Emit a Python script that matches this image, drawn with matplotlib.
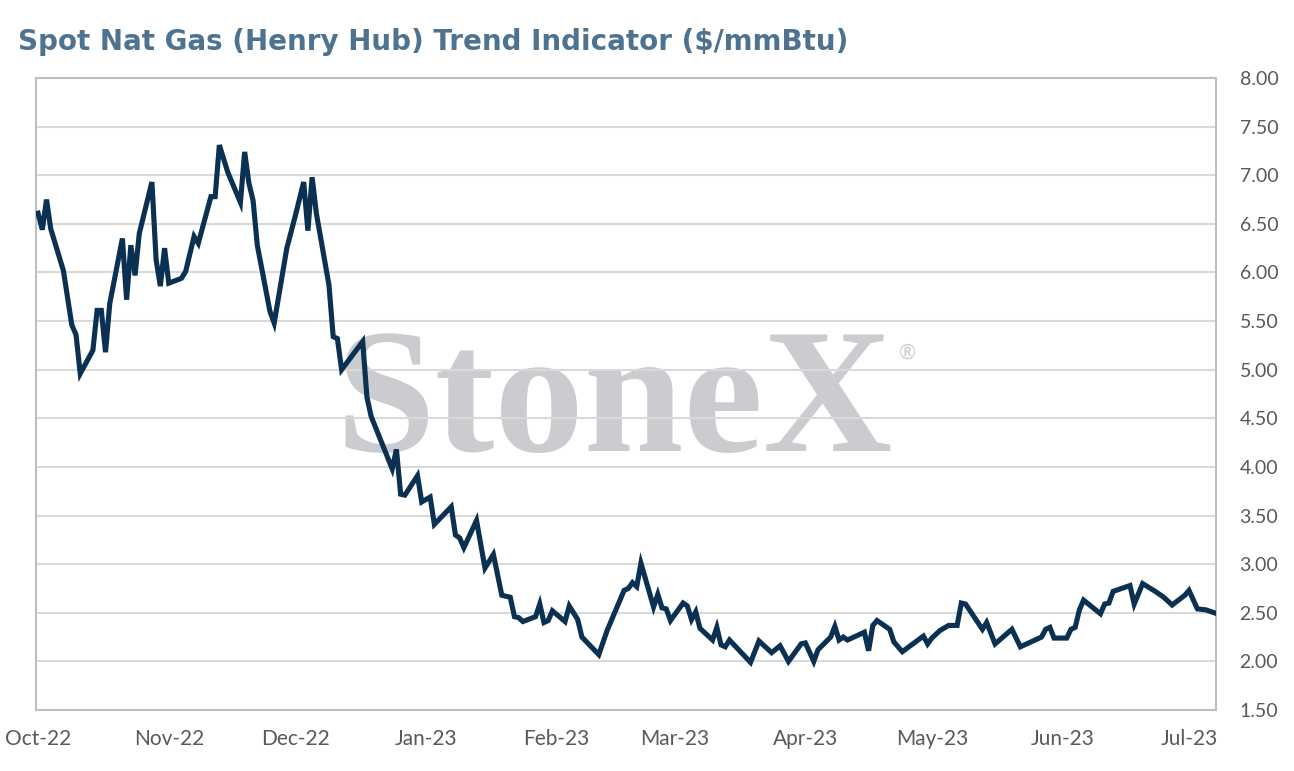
import pandas as pd
import matplotlib
matplotlib.use("Agg")
import matplotlib.pyplot as plt
import matplotlib.dates as mdates

# день от 1 октября 2022 и цена ($/mmBtu)
start = pd.Timestamp("2022-10-01")
days = [0, 1, 2, 3, 6, 8, 9, 10, 13, 14, 15, 16, 17, 20, 21, 22, 23, 24, 27, 28,
        29, 30, 31, 34, 35, 37, 38, 41, 42, 43, 45, 48, 49, 50, 51, 52, 55, 56, 59, 61,
        63, 64, 65, 66, 69, 70, 71, 72, 77, 78, 79, 84, 85, 86, 87, 90, 91, 93, 94, 98,
        99, 100, 101, 104, 106, 108, 110, 112, 113, 114, 115, 118, 119, 120, 121, 122, 125, 126, 128, 129,
        133, 135, 139, 140, 141, 142, 143, 146, 147, 148, 149, 150, 153, 154, 155, 156, 157, 160, 161, 162,
        163, 164, 169, 171, 174, 176, 178, 181, 182, 184, 185, 188, 189, 190, 191, 192, 196, 197, 198, 199,
        202, 203, 205, 210, 211, 212, 214, 216, 218, 219, 220, 224, 225, 227, 231, 233, 238, 239, 240, 241,
        244, 245, 246, 247, 248, 252, 253, 254, 255, 259, 260, 262, 265, 267, 269, 272, 273, 275, 277, 279]
prices = [6.61, 6.44, 6.75, 6.45, 6.02, 5.46, 5.36, 4.96, 5.20, 5.61, 5.61, 5.18, 5.68, 6.35, 5.72, 6.28, 5.97, 6.40, 6.93, 6.13,
          5.86, 6.25, 5.89, 5.94, 6.01, 6.37, 6.30, 6.78, 6.78, 7.31, 7.03, 6.72, 7.24, 6.92, 6.74, 6.28, 5.60, 5.48, 6.25, 6.58,
          6.93, 6.43, 6.98, 6.61, 5.87, 5.34, 5.32, 5.00, 5.29, 4.72, 4.52, 3.98, 4.18, 3.72, 3.71, 3.91, 3.64, 3.69, 3.41, 3.59,
          3.30, 3.27, 3.17, 3.45, 2.96, 3.10, 2.68, 2.66, 2.46, 2.45, 2.41, 2.46, 2.59, 2.40, 2.42, 2.52, 2.41, 2.57, 2.43, 2.25,
          2.07, 2.32, 2.73, 2.75, 2.81, 2.77, 3.01, 2.56, 2.69, 2.55, 2.54, 2.42, 2.60, 2.57, 2.43, 2.51, 2.34, 2.22, 2.35, 2.17,
          2.15, 2.22, 1.99, 2.21, 2.09, 2.16, 2.00, 2.18, 2.19, 2.00, 2.12, 2.25, 2.36, 2.22, 2.25, 2.22, 2.30, 2.11, 2.37, 2.42,
          2.33, 2.20, 2.10, 2.26, 2.18, 2.24, 2.32, 2.37, 2.37, 2.60, 2.59, 2.33, 2.40, 2.18, 2.33, 2.15, 2.25, 2.33, 2.35, 2.24,
          2.24, 2.33, 2.35, 2.53, 2.63, 2.49, 2.59, 2.60, 2.72, 2.78, 2.59, 2.80, 2.72, 2.66, 2.58, 2.68, 2.73, 2.54, 2.53, 2.50]
dates = [start + pd.Timedelta(days=d) for d in days]

y_ticks = [1.5 + 0.5 * i for i in range(14)]

plt.rcParams['font.family'] = ['Lato', 'DejaVu Sans']

fig = plt.figure(figsize=(12.94, 7.71), dpi=100)
ax = fig.add_axes([0.0278, 0.0791, 0.9119, 0.8197])

ax.plot(dates, prices, color='#0b3152', linewidth=3.7, solid_joinstyle='miter', zorder=3)

ax.set_ylim(1.5, 8.0)
ax.set_xlim(start - pd.Timedelta(days=0.5), start + pd.Timedelta(days=279.4))
ax.set_yticks(y_ticks)
ax.yaxis.set_major_formatter(plt.FuncFormatter(lambda v, p: f"{v:.2f}"))
ax.yaxis.tick_right()
ax.xaxis.set_major_locator(mdates.MonthLocator())
ax.xaxis.set_major_formatter(mdates.DateFormatter('%b-%y'))

ax.tick_params(axis='both', length=0, labelcolor='#595959')
ax.tick_params(axis='x', labelsize=15, pad=14)
ax.tick_params(axis='y', labelsize=14, pad=17)

ax.set_axisbelow(True)
ax.grid(axis='y', color='#d9d9d9', linewidth=1.5)
for s in ax.spines.values():
    s.set_color('#bfbfbf')
    s.set_linewidth(1.5)

# водяной знак
ax.text(0.49, 0.41, 'StoneX', transform=ax.transAxes, ha='center', va='baseline',
        fontsize=129, family='Liberation Serif', fontweight='bold', color='#cbccd0', zorder=0.3)
ax.text(0.731, 0.565, '®', transform=ax.transAxes, ha='left', va='center',
        fontsize=15, color='#cbccd0', zorder=0.3)

fig.text(0.014, 0.946, 'Spot Nat Gas (Henry Hub) Trend Indicator ($/mmBtu)',
         fontsize=20, fontweight='bold', family='DejaVu Sans', color='#4e7390', va='center', ha='left')

fig.savefig('out.png', dpi=100)
